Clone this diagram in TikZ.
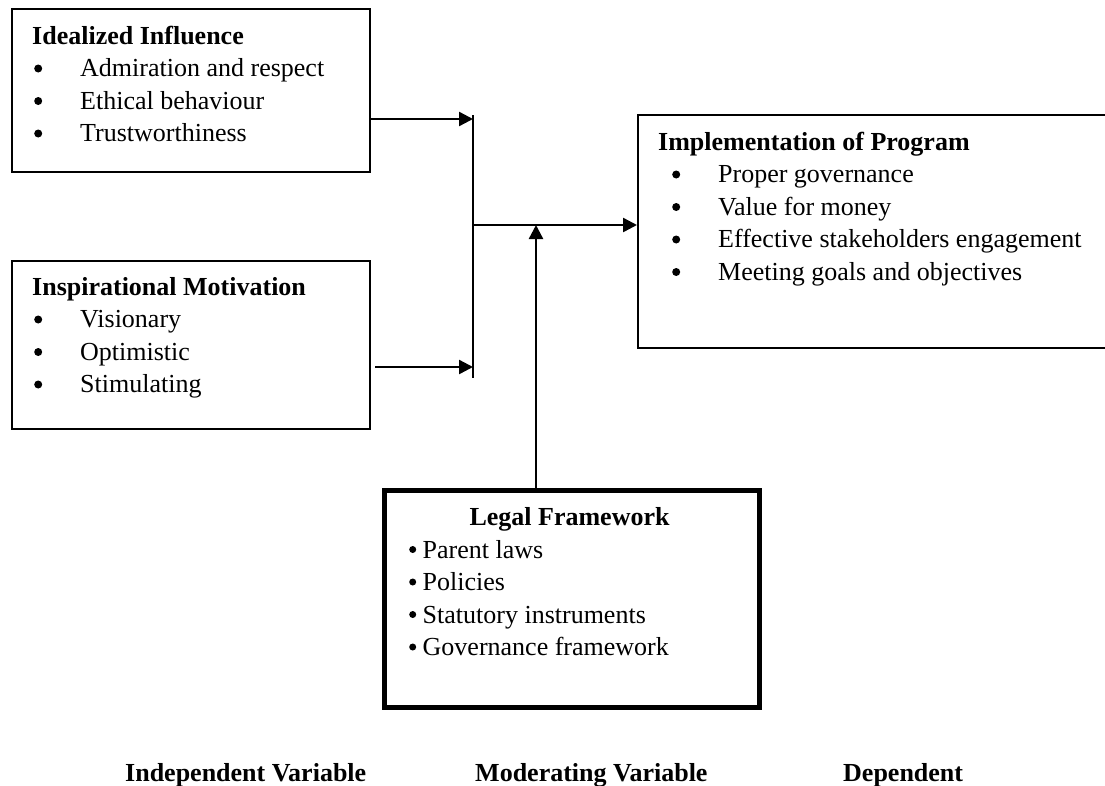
\documentclass[tikz,border=0pt]{standalone}
\usepackage{fontspec}
\setmainfont{Liberation Serif}
\usetikzlibrary{arrows.meta}
\newcommand{\bigdot}{\tikz[baseline=0pt]\fill (4pt,8pt) circle (4pt);}
\newcommand{\middot}{\tikz[baseline=0pt]\fill (3.5pt,8.5pt) circle (3.5pt);}
\newcommand{\itemrowA}[1]{\makebox[48pt][l]{\hspace*{2pt}\bigdot}#1}
\newcommand{\itemrowB}[1]{\makebox[60pt][l]{\hspace*{14pt}\bigdot}#1}
\tikzset{
  box/.style={draw, line width=2pt, anchor=north west, inner sep=0pt},
  thickbox/.style={draw, line width=4.5pt, anchor=north west, inner sep=0pt, line join=miter},
  txt/.style={anchor=base west, inner sep=0pt, font=\fontsize{26}{32.5}\selectfont},
  lbl/.style={anchor=base west, inner sep=0pt, font=\fontsize{26}{32.5}\selectfont\bfseries},
  conn/.style={line width=2.4pt},
  arr/.style={line width=2.4pt, -{Triangle[length=14pt,width=14pt]}}
}
\begin{document}
\begin{tikzpicture}[x=1pt,y=-1pt]
\useasboundingbox (0,0) rectangle (1105,785);
\clip (0,0) rectangle (1105,785);
% boxes
\node[box, minimum width=358pt, minimum height=163pt] (ii) at (11,8) {};
\node[box, minimum width=358pt, minimum height=168pt] (im) at (11,260) {};
\node[box, minimum width=500pt, minimum height=233pt] (ip) at (637,114) {};
\node[thickbox, minimum width=375pt, minimum height=217pt] (lf) at (382,488) {};
% texts
\node[txt] (iit) at (32,44) {\begin{tabular}[t]{@{}l@{}}\textbf{Idealized Influence}\\
\itemrowA{Admiration and respect}\\
\itemrowA{Ethical behaviour}\\
\itemrowA{Trustworthiness}\end{tabular}};
\node[txt] (imt) at (32,295) {\begin{tabular}[t]{@{}l@{}}\textbf{Inspirational Motivation}\\
\itemrowA{Visionary}\\
\itemrowA{Optimistic}\\
\itemrowA{Stimulating}\end{tabular}};
\node[txt] (ipt) at (658,150) {\begin{tabular}[t]{@{}l@{}}\textbf{Implementation of Program}\\
\itemrowB{Proper governance}\\
\itemrowB{Value for money}\\
\itemrowB{Effective stakeholders engagement}\\
\itemrowB{Meeting goals and objectives}\end{tabular}};
\node[txt, anchor=base] (lft) at (569.5,525) {\textbf{Legal Framework}};
\node[txt] (lfl) at (409,558) {\begin{tabular}[t]{@{}l@{}}\middot{} Parent laws\\
\middot{} Policies\\
\middot{} Statutory instruments\\
\middot{} Governance framework\end{tabular}};
% bottom labels
\node[lbl] (l1) at (125,781) {Independent Variable};
\node[lbl] (l2) at (475,781) {Moderating Variable};
\node[lbl] (l3) at (843,781) {Dependent};
% connectors
\coordinate (bt) at (473,115);
\coordinate (bb) at (473,378);
\coordinate (j1) at (473,119);
\coordinate (j2) at (473,367);
\coordinate (j3) at (473,225);
\coordinate (up) at (536,225);
\draw[conn] (bt) -- (bb);
\draw[arr] (ii.east |- j1) -- (j1);
\draw[arr] ([xshift=4pt]im.east |- j2) -- (j2);
\draw[arr] (j3) -- (ip.west |- j3);
\draw[arr] (lf.north -| up) -- (up);
\end{tikzpicture}
\end{document}
